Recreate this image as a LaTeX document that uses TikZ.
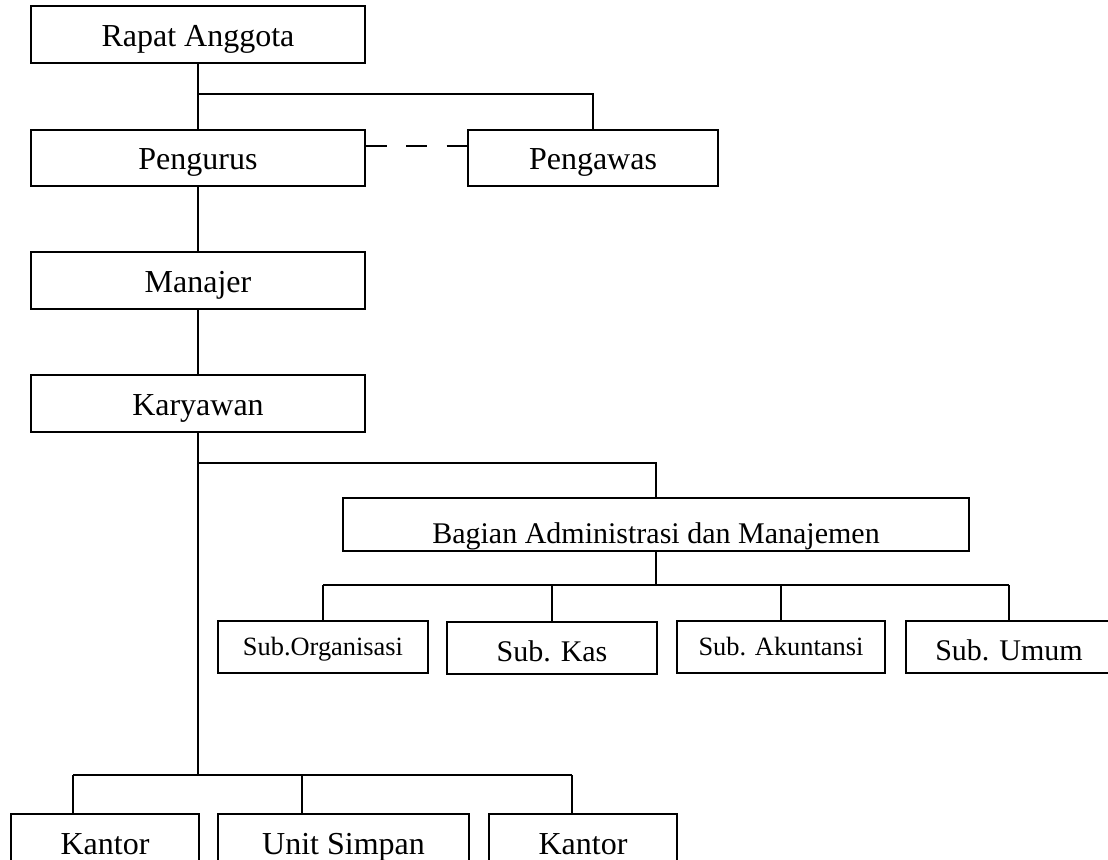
\documentclass[tikz,border=0pt]{standalone}
\usepackage{fontspec}
\setmainfont{Liberation Serif}
\tikzset{unit/.style = {draw, line width=0.7pt, inner sep=0pt, text height=11.5pt, text depth=0pt,
                        font=\fontsize{16}{19}\selectfont},
         subunit/.style = {unit, minimum height=26pt, text height=8.5pt,
                           font=\fontsize{13.2}{16}\selectfont},
         bigsubunit/.style = {subunit, text height=13pt, font=\fontsize{15}{18}\selectfont},
         link/.style = {line width=0.7pt},
         dashlink/.style = {link, dash pattern=on 10.5pt off 9.75pt}}

\begin{document}
\begin{tikzpicture}[x=0.5pt, y=-0.5pt]
  \useasboundingbox (0,0) rectangle (1108,859);
  \clip (0,0) rectangle (1108,859);

  \node [unit, minimum width=167pt, minimum height=28.5pt] (rapat) at (198,34.5) {Rapat Anggota};
  \node [unit, minimum width=167pt, minimum height=28pt] (pengurus) at (198,158) {Pengurus};
  \node [unit, minimum width=125pt, minimum height=28pt] (pengawas) at (593,158) {Pengawas};
  \node [unit, minimum width=167pt, minimum height=28.5pt] (manajer) at (198,280.5) {Manajer};
  \node [unit, minimum width=167pt, minimum height=28.5pt] (karyawan) at (198,403.5) {Karyawan};
  \node [unit, minimum width=313pt, minimum height=26.5pt, text height=18.5pt,
         font=\fontsize{15}{18}\selectfont] (bagian) at (656,524.5) {Bagian Administrasi dan Manajemen};

  \node [subunit, minimum width=105pt] (subOrg) at (323,647) {Sub.Organisasi};
  \node [bigsubunit, minimum width=105pt] (subKas) at (552,648) {Sub. Kas};
  \node [subunit, minimum width=104pt] (subAkun) at (781,647) {Sub. Akuntansi};
  \node [bigsubunit, minimum width=103pt] (subUmum) at (1009,647) {Sub. Umum};

  \node [unit, minimum width=94pt, minimum height=28.5pt] (kantorA) at (105,842.5) {Kantor};
  \node [unit, minimum width=125.5pt, minimum height=28.5pt] (unitSimpan) at (343.5,842.5) {Unit Simpan};
  \node [unit, minimum width=94pt, minimum height=28.5pt] (kantorB) at (583,842.5) {Kantor};

  \coordinate (busTop) at (0,94);
  \coordinate (dashRow) at (0,146);
  \coordinate (busMid) at (0,463);
  \coordinate (busSub) at (0,585);
  \coordinate (dropA) at (73,775);
  \coordinate (dropB) at (302,775);
  \coordinate (dropC) at (572,775);

  \draw [link] (rapat.south) -- (pengurus.north);
  \draw [link] (rapat.south |- busTop) -| (pengawas.north);
  \draw [dashlink] (pengurus.east |- dashRow) -- (pengawas.west |- dashRow);
  \draw [link] (pengurus.south) -- (manajer.north);
  \draw [link] (manajer.south) -- (karyawan.north);
  \draw [link] (karyawan.south) -- (karyawan.south |- dropA);
  \draw [link] (karyawan.south |- busMid) -| (bagian.north);

  \draw [link] (bagian.south) -- (bagian.south |- busSub);
  \draw [link] (subOrg.north |- busSub) -- (subUmum.north |- busSub);
  \foreach \s in {subOrg, subKas, subAkun, subUmum}
    \draw [link] (\s.north |- busSub) -- (\s.north);

  \draw [link] (dropA) -- (dropC);
  \draw [link] (dropA) -- (dropA |- kantorA.north);
  \draw [link] (dropB) -- (dropB |- unitSimpan.north);
  \draw [link] (dropC) -- (dropC |- kantorB.north);
\end{tikzpicture}
\end{document}
